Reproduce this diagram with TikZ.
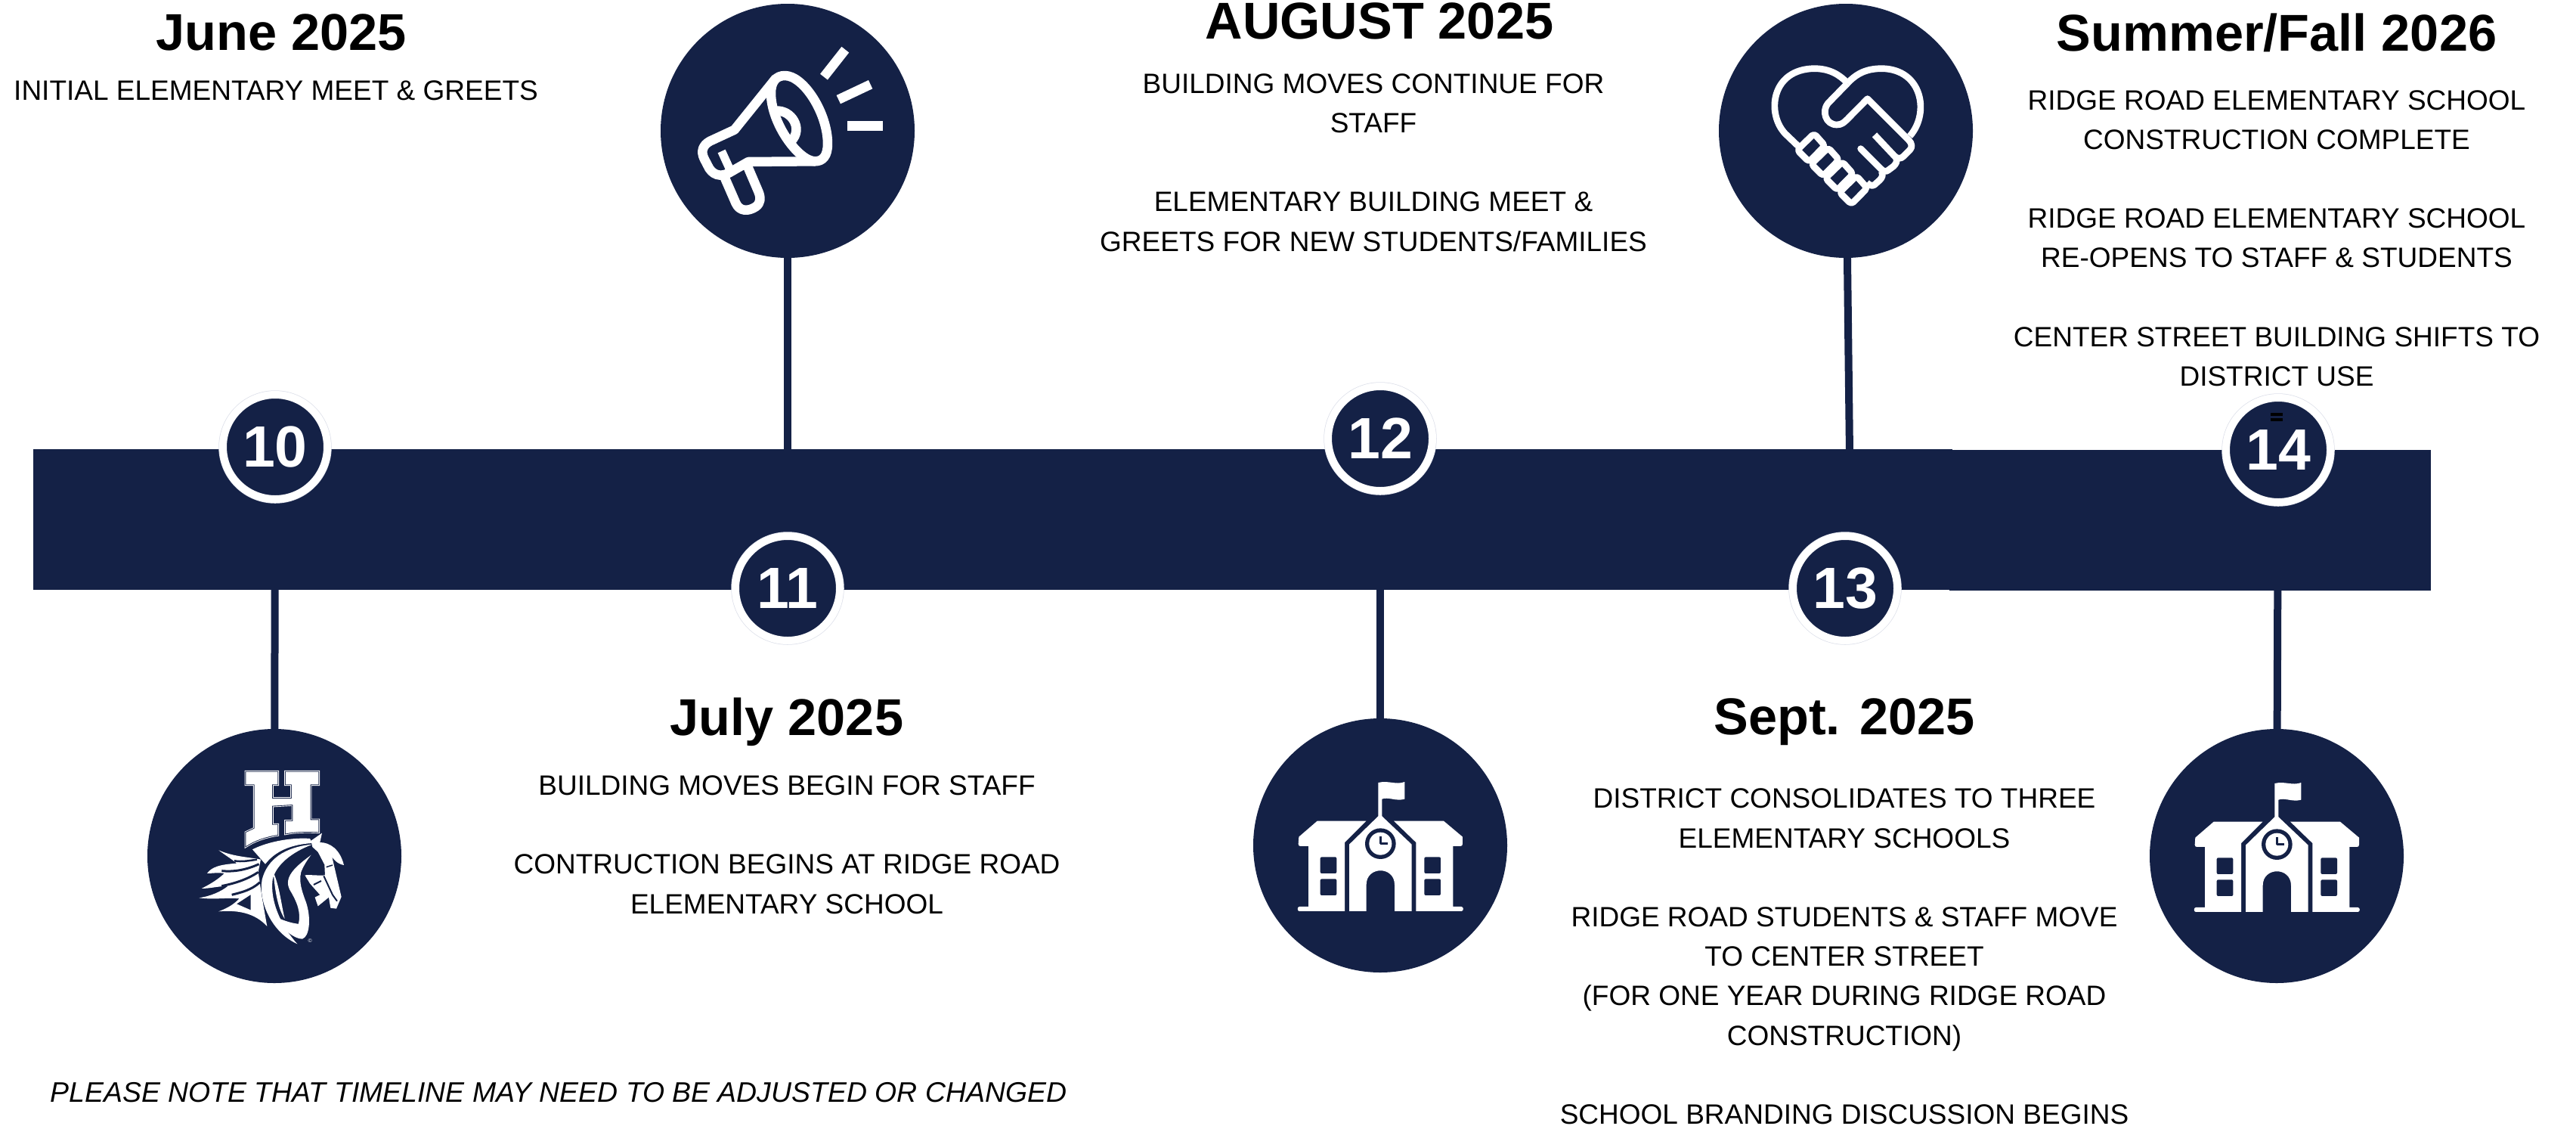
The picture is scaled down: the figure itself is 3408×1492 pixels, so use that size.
\documentclass[tikz,border=0pt]{standalone}
\usepackage{fontspec}
\setmainfont{Liberation Sans}
\usetikzlibrary{backgrounds}
\definecolor{navy}{HTML}{142146}
\definecolor{ringline}{HTML}{DDE0EA}
\tikzset{
  bigdisc/.style={circle,fill=navy,inner sep=0pt,minimum size=336pt},
  numdisc/.style={circle,inner sep=0pt,minimum size=138pt,fill=navy,draw=white,line width=10pt,
     preaction={draw=ringline,line width=11.5pt},text=white,font=\fontsize{77}{77}\selectfont\bfseries},
  barbox/.style={rectangle,fill=navy,inner sep=0pt,outer sep=0pt},
  conn/.style={draw=navy,line width=10pt},
  headtxt/.style={font=\fontsize{68.5}{72}\selectfont\bfseries,text=black,inner sep=0pt},
  bodytxt/.style={font=\fontsize{37}{52.2}\selectfont,align=center,text=black,inner sep=0pt},
  iconline/.style={draw=white,line join=round,fill=none},
}
\newcommand{\mysch}{%
  \fill[white] (205,500) -- (278,437) -- (472,437) -- (387,522) -- (387,795) -- (207,795) .. controls (198,795) and (198,777) .. (207,777) -- (243,777) -- (243,537) -- (212,537) .. controls (206,537) and (203,534) .. (203,528) -- cycle;
  \fill[white] (405,530) -- (520,418) -- (520,285) .. controls (560,275) and (590,295) .. (625,282) -- (625,350) .. controls (590,360) and (560,340) .. (535,350) -- (535,418) -- (653,530) -- (653,795) -- (585,795) -- (585,690) .. controls (585,615) and (473,615) .. (473,690) -- (473,795) -- (405,795) -- cycle;
  \fill[white] (670,522) -- (582,437) -- (780,437) -- (855,500) -- (855,528) .. controls (855,534) and (852,537) .. (846,537) -- (817,537) -- (817,777) -- (850,777) .. controls (860,777) and (860,795) .. (850,795) -- (670,795) -- cycle;
  \fill[navy] (529,527) circle (61);
  \fill[white] (529,527) circle (45);
  \draw[navy,line width=3pt,line join=round] (529,497) -- (529,527) -- (558,527);
  \foreach \wx in {290,703} \foreach \wy in {580,667}
    \fill[navy,rounded corners=2pt] (\wx,\wy) rectangle ++(65,65);
}
\def\hpath{(526,302) -- (652,302) -- (652,352) -- (630,352) -- (630,408) -- (708,408) -- (708,352) -- (684,352) -- (684,302) -- (814,302) -- (814,352) -- (782,352) -- (782,493) -- (814,493) -- (814,541) .. controls (760,538) and (720,540) .. (684,547) -- (684,498) -- (712,498) -- (712,432) -- (630,437) -- (630,512) -- (652,512) -- (652,552) .. controls (600,560) and (560,575) .. (526,597) -- (526,543) -- (560,527) -- (560,352) -- (526,352) -- cycle}
\begin{document}
\begin{tikzpicture}[x=1pt,y=-1pt]
\useasboundingbox (0,0) rectangle (3408,1492);
% nodes
\node[bigdisc] (c10) at (363,1132) {};
\node[bigdisc] (c11) at (1042,173) {};
\node[bigdisc] (c12) at (1826,1118) {};
\node[bigdisc] (c13) at (2442,173) {};
\node[bigdisc] (c14) at (3012,1132) {};
\node[numdisc] (n10) at (364,591) {10};
\node[numdisc] (n11) at (1042,778) {11};
\node[numdisc] (n12) at (1826,580) {12};
\node[numdisc] (n13) at (2441,778) {13};
\node[numdisc] (n14) at (3014,595) {14};
\coordinate (b13) at (2447,600);
\begin{pgfonlayer}{background}
  \fill[white] (0,0) rectangle (3408,1492);
  \node[barbox,minimum width=2539pt,minimum height=186pt] (barL) at (1313.5,687) {};
  \node[barbox,minimum width=637pt,minimum height=186pt] (barR) at (2897.5,688) {};
  \draw[conn] (n10) -- (c10);
  \draw[conn] (n11) -- (c11);
  \draw[conn] (n12) -- (c12);
  \draw[conn] (b13) -- (c13);
  \draw[conn] (n14) -- (c14);
\end{pgfonlayer}
\fill[black] (3004,546) rectangle (3020,550);
\fill[black] (3004,553) rectangle (3020,557);
% headings
\node[headtxt] (h10) at (372,43) {June 2025};
\node[headtxt] (h11) at (1041,955) {July 2025};
\node[headtxt] (h12) at (1825,28) {AUGUST 2025};
\node[headtxt] (h13) at (2440,955) {Sept. 2025};
\node[headtxt] (h14) at (3012,43) {Summer/Fall 2026};
% bodies
\node[bodytxt] (t10) at (365,120) {INITIAL ELEMENTARY MEET \& GREETS};
\node[bodytxt] (t11) at (1041,1117) {BUILDING MOVES BEGIN FOR STAFF\\ ~ \\CONTRUCTION BEGINS AT RIDGE ROAD\\ELEMENTARY SCHOOL};
\node[bodytxt] (t12) at (1817,215) {BUILDING MOVES CONTINUE FOR\\STAFF\\ ~ \\ELEMENTARY BUILDING MEET \&\\GREETS FOR NEW STUDENTS/FAMILIES};
\node[bodytxt] (t13) at (2440,1265) {DISTRICT CONSOLIDATES TO THREE\\ELEMENTARY SCHOOLS\\ ~ \\RIDGE ROAD STUDENTS \& STAFF MOVE\\TO CENTER STREET\\(FOR ONE YEAR DURING RIDGE ROAD\\CONSTRUCTION)\\ ~ \\SCHOOL BRANDING DISCUSSION BEGINS};
\node[bodytxt] (t14) at (3012,315) {RIDGE ROAD ELEMENTARY SCHOOL\\CONSTRUCTION COMPLETE\\ ~ \\RIDGE ROAD ELEMENTARY SCHOOL\\RE-OPENS TO STAFF \& STUDENTS\\ ~ \\CENTER STREET BUILDING SHIFTS TO\\DISTRICT USE};
\node[bodytxt,font=\fontsize{37.4}{52.2}\selectfont\itshape] (note) at (739,1445) {PLEASE NOTE THAT TIMELINE MAY NEED TO BE ADJUSTED OR CHANGED};
% school icons
\begin{scope}[shift={(1650,940)},x=0.3333pt,y=-0.3333pt]\mysch\end{scope}
\begin{scope}[shift={(2836,941)},x=0.3333pt,y=-0.3333pt]\mysch\end{scope}
% megaphone
\begin{scope}[shift={(850,0)},x=0.3333pt,y=-0.3333pt]
  \draw[iconline,line width=12.5pt] (565,300) .. controls (640,300) and (735,450) .. (735,570) .. controls (735,620) and (715,640) .. (685,640) .. controls (620,640) and (510,490) .. (510,370) .. controls (510,325) and (530,300) .. (565,300) -- cycle;
  \draw[iconline,line width=12.5pt] (530,310) -- (365,515) -- (268,560) .. controls (240,575) and (230,600) .. (245,630) -- (258,655) .. controls (275,695) and (310,705) .. (345,685) -- (420,642) -- (685,640);
  \draw[iconline,line width=12.5pt] (322,695) -- (370,805) .. controls (385,840) and (420,840) .. (450,820) .. controls (470,805) and (470,785) .. (460,760) -- (415,655);
  \draw[iconline,line width=12.5pt] (530,440) .. controls (590,435) and (640,510) .. (590,560);
  \draw[iconline,line width=11pt] (314,600) -- (345,668);
  \draw[iconline,line width=12.5pt] (805,197) -- (720,305);
  \draw[iconline,line width=12.5pt] (905,335) -- (778,395);
  \draw[iconline,line width=12.5pt] (813,499) -- (954,499);
\end{scope}
% handshake
\begin{scope}[shift={(2260,0)},x=0.3333pt,y=-0.3333pt]
  \draw[iconline,line width=8.7pt] (355,578) -- (305,530) .. controls (230,450) and (250,275) .. (420,272) .. controls (480,272) and (520,295) .. (553,330);
  \draw[iconline,line width=8.7pt] (553,330) -- (475,410) .. controls (450,440) and (465,495) .. (510,495) .. controls (530,495) and (540,485) .. (552,473) -- (632,392) -- (795,555) .. controls (810,570) and (810,585) .. (800,595) -- (775,620) .. controls (765,632) and (748,630) .. (738,618) -- (660,535);
  \draw[iconline,line width=8.7pt] (553,330) .. controls (590,290) and (630,272) .. (690,272) .. controls (850,275) and (880,450) .. (800,540);
  \draw[iconline,line width=8.7pt,line cap=round] (745,625) .. controls (752,640) and (745,650) .. (735,660) -- (715,675) .. controls (705,683) and (695,680) .. (685,670) -- (605,590);
  \draw[iconline,line width=8.7pt] (688,680) .. controls (695,695) and (690,705) .. (680,715) -- (660,733) .. controls (650,740) and (640,735) .. (630,725);
  \foreach \k in {0,1,2,3} {
    \begin{scope}[shift={(56*\k,56*\k)}]
      \draw[iconline,line width=8.7pt,rounded corners=4pt] (420,530) -- (463,578) -- (400,642) -- (353,595) -- cycle;
    \end{scope}
  }
\end{scope}
% horse logo
\begin{scope}[shift={(150,920)},x=0.3333pt,y=-0.3333pt]
  \draw[white,line width=3.6pt,line join=miter] \hpath;
  \draw[navy,line width=1.8pt,line join=miter] \hpath;
  \fill[white] \hpath;
  % crest
  \fill[white] (552,610) .. controls (620,575) and (720,562) .. (780,567) -- (790,585) .. controls (700,590) and (640,620) .. (603,668) -- cycle;
  % mane
  \fill[white] (418,613) .. controls (480,640) and (540,640) .. (585,650) -- (575,700) -- (590,800) -- (610,915) .. controls (560,860) and (490,850) .. (418,856) .. controls (460,840) and (480,825) .. (500,805) .. controls (450,800) and (400,810) .. (340,802) .. controls (390,795) and (430,775) .. (455,755) .. controls (420,755) and (385,765) .. (350,765) .. controls (390,745) and (420,725) .. (440,705) .. controls (420,700) and (395,705) .. (372,705) .. controls (390,680) and (420,670) .. (490,665) .. controls (465,645) and (440,630) .. (418,613) -- cycle;
  \draw[navy,line width=2.5pt] (480,655) .. controls (510,660) and (535,655) .. (570,650);
  \draw[navy,line width=3pt] (430,695) .. controls (480,700) and (530,690) .. (578,668);
  \draw[navy,line width=3pt] (430,755) .. controls (480,745) and (530,730) .. (575,700);
  \draw[navy,line width=3pt] (470,790) .. controls (510,780) and (550,770) .. (582,740);
  \fill[navy] (490,826) -- (545,790) -- (545,850) -- cycle;
  % neck strands
  \fill[white] (790,590) .. controls (680,600) and (610,650) .. (590,730) .. controls (575,820) and (630,940) .. (730,985) .. controls (680,930) and (620,830) .. (632,730) .. controls (645,670) and (710,620) .. (790,590) -- cycle;
  \fill[white] (785,632) .. controls (720,680) and (675,720) .. (700,770) .. controls (730,820) and (745,860) .. (735,905) .. controls (720,905) and (680,895) .. (650,880) .. controls (670,930) and (720,965) .. (750,965) .. controls (780,955) and (785,880) .. (765,820) .. controls (750,780) and (735,740) .. (745,700) .. controls (752,680) and (770,650) .. (785,632) -- cycle;
  \fill[white] (635,700) .. controls (640,760) and (650,840) .. (680,885) .. controls (665,820) and (660,760) .. (635,700) -- cycle;
  % head
  \fill[white] (785,575) -- (828,545) -- (820,582) .. controls (860,582) and (900,610) .. (915,672) .. controls (890,668) and (875,650) .. (868,640) -- (905,798) -- (885,845) -- (862,842) -- (855,800) -- (812,835) -- (800,800) -- (820,790) -- (780,745) -- (760,712) .. controls (790,710) and (820,715) .. (840,712) -- (838,670) -- (812,620) -- (790,600) -- cycle;
  \draw[navy,line width=2pt] (835,715) -- (870,790) -- (888,815);
  \draw[navy,line width=1.5pt] (845,680) -- (870,672);
  \draw[navy,line width=2pt] (795,750) -- (825,735);
  \node[inner sep=0pt,font=\fontsize{7}{7}\selectfont,text=white] (cmark) at (781,971) {©};
\end{scope}
\end{tikzpicture}
\end{document}
